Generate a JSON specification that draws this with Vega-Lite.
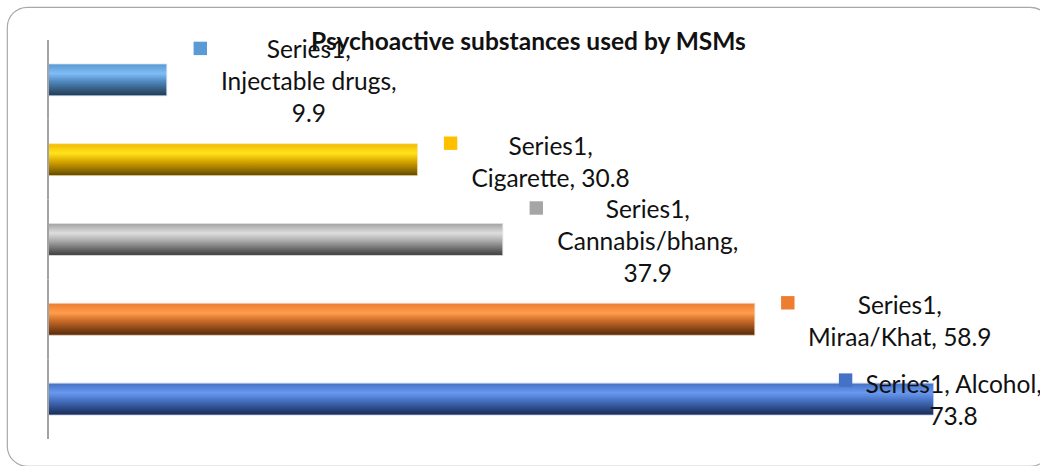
{
  "$schema": "https://vega.github.io/schema/vega-lite/v6.json",
  "width": 1043,
  "height": 459,
  "autosize": {"type": "none"},
  "padding": {"left": 7, "top": 7, "right": 0, "bottom": 0},
  "background": "white",
  "config": {
    "view": {"stroke": "#a8a8a8", "strokeWidth": 1.2, "cornerRadius": 20, "fill": "white"},
    "text": {"font": "Lato", "fontSize": 24.5, "color": "#111111", "align": "center", "baseline": "alphabetic", "lineBreak": "\n", "lineHeight": 32}
  },
  "title": {
    "text": "Psychoactive substances used by MSMs",
    "font": "Lato",
    "fontSize": 24.5,
    "fontWeight": "bold",
    "color": "#111111",
    "anchor": "middle",
    "baseline": "alphabetic",
    "offset": -67
  },
  "data": {
    "values": [
      {"item": "Injectable drugs", "value": 9.9},
      {"item": "Cigarette", "value": 30.8},
      {"item": "Cannabis/bhang", "value": 37.9},
      {"item": "Miraa/Khat", "value": 58.9},
      {"item": "Alcohol", "value": 73.8}
    ]
  },
  "encoding": {
    "y": {
      "field": "item",
      "type": "nominal",
      "sort": null,
      "axis": null,
      "scale": {
        "domain": ["Injectable drugs", "Cigarette", "Cannabis/bhang", "Miraa/Khat", "Alcohol"],
        "paddingInner": 0,
        "paddingOuter": 0.376,
        "align": 0.55
      }
    }
  },
  "layer": [
    {
      "transform": [{"filter": "datum.item === 'Injectable drugs'"}],
      "mark": {"type": "bar", "height": {"band": 0.4}, "stroke": "#d6e4f2", "strokeWidth": 0.8,
        "fill": {"gradient": "linear", "x1": 0, "y1": 0, "x2": 0, "y2": 1, "stops": [
          {"offset": 0, "color": "#5b98d2"}, {"offset": 0.3, "color": "#7fbdf7"}, {"offset": 0.55, "color": "#5089bf"}, {"offset": 0.85, "color": "#2f5373"}, {"offset": 1, "color": "#1f3a55"}]}},
      "encoding": {
        "x": {"field": "value", "type": "quantitative", "axis": null, "scale": {"domain": [-3.417, 83.5], "zero": false, "nice": false}},
        "x2": {"datum": 0}
      }
    },
    {
      "transform": [{"filter": "datum.item === 'Cigarette'"}],
      "mark": {"type": "bar", "height": {"band": 0.4}, "stroke": "#f6e6b0", "strokeWidth": 0.8,
        "fill": {"gradient": "linear", "x1": 0, "y1": 0, "x2": 0, "y2": 1, "stops": [
          {"offset": 0, "color": "#f2b900"}, {"offset": 0.3, "color": "#ffe41c"}, {"offset": 0.55, "color": "#d9a600"}, {"offset": 0.85, "color": "#8a6800"}, {"offset": 1, "color": "#5e4600"}]}},
      "encoding": {
        "x": {"field": "value", "type": "quantitative"},
        "x2": {"datum": 0}
      }
    },
    {
      "transform": [{"filter": "datum.item === 'Cannabis/bhang'"}],
      "mark": {"type": "bar", "height": {"band": 0.4}, "stroke": "#e2e2e2", "strokeWidth": 0.8,
        "fill": {"gradient": "linear", "x1": 0, "y1": 0, "x2": 0, "y2": 1, "stops": [
          {"offset": 0, "color": "#a2a2a2"}, {"offset": 0.3, "color": "#dedede"}, {"offset": 0.55, "color": "#a9a9a9"}, {"offset": 0.85, "color": "#5e5e5e"}, {"offset": 1, "color": "#3c3c3c"}]}},
      "encoding": {
        "x": {"field": "value", "type": "quantitative"},
        "x2": {"datum": 0}
      }
    },
    {
      "transform": [{"filter": "datum.item === 'Miraa/Khat'"}],
      "mark": {"type": "bar", "height": {"band": 0.4}, "stroke": "#f3d3bc", "strokeWidth": 0.8,
        "fill": {"gradient": "linear", "x1": 0, "y1": 0, "x2": 0, "y2": 1, "stops": [
          {"offset": 0, "color": "#ec7b30"}, {"offset": 0.3, "color": "#ff9e4c"}, {"offset": 0.55, "color": "#c96a28"}, {"offset": 0.85, "color": "#7a3e14"}, {"offset": 1, "color": "#55290a"}]}},
      "encoding": {
        "x": {"field": "value", "type": "quantitative"},
        "x2": {"datum": 0}
      }
    },
    {
      "transform": [{"filter": "datum.item === 'Alcohol'"}],
      "mark": {"type": "bar", "height": {"band": 0.4}, "stroke": "#c4d2ee", "strokeWidth": 0.8,
        "fill": {"gradient": "linear", "x1": 0, "y1": 0, "x2": 0, "y2": 1, "stops": [
          {"offset": 0, "color": "#4470c2"}, {"offset": 0.3, "color": "#6899f0"}, {"offset": 0.55, "color": "#4670c0"}, {"offset": 0.85, "color": "#26407a"}, {"offset": 1, "color": "#1a2a50"}]}},
      "encoding": {
        "x": {"field": "value", "type": "quantitative"},
        "x2": {"datum": 0}
      }
    },
    {
      "mark": {"type": "bar", "color": "#a3a3a3"},
      "encoding": {
        "x": {"datum": -0.085, "type": "quantitative"},
        "x2": {"datum": 0.085}
      }
    },
    {
      "transform": [{"filter": "datum.item === 'Injectable drugs' || datum.item === 'Cannabis/bhang'"}],
      "mark": {"type": "square", "size": 180, "opacity": 1, "xOffset": 33.5, "yOffset": -31.5},
      "encoding": {
        "x": {"field": "value", "type": "quantitative"},
        "color": {"field": "item", "type": "nominal", "legend": null,
          "scale": {"domain": ["Injectable drugs", "Cigarette", "Cannabis/bhang", "Miraa/Khat", "Alcohol"],
                    "range": ["#5b9bd5", "#ffc000", "#a5a5a5", "#ed7d31", "#4472c4"]}}
      }
    },
    {
      "transform": [{"filter": "datum.item === 'Cigarette' || datum.item === 'Miraa/Khat'"}],
      "mark": {"type": "square", "size": 180, "opacity": 1, "xOffset": 33, "yOffset": -16.5},
      "encoding": {
        "x": {"field": "value", "type": "quantitative"},
        "color": {"field": "item", "type": "nominal", "legend": null}
      }
    },
    {
      "transform": [{"filter": "datum.item === 'Alcohol'"}],
      "mark": {"type": "square", "size": 180, "opacity": 1, "xOffset": -88, "yOffset": -19},
      "encoding": {
        "x": {"field": "value", "type": "quantitative"},
        "color": {"field": "item", "type": "nominal", "legend": null}
      }
    },
    {
      "transform": [
        {"filter": "datum.item === 'Injectable drugs'"},
        {"calculate": "'Series1,\\n' + datum.item + ',\\n' + format(datum.value, '.1f')", "as": "label"}
      ],
      "mark": {"type": "text", "dx": 142, "dy": -21.5},
      "encoding": {"x": {"field": "value", "type": "quantitative"}, "text": {"field": "label"}}
    },
    {
      "transform": [
        {"filter": "datum.item === 'Cigarette'"},
        {"calculate": "'Series1,\\n' + datum.item + ', ' + format(datum.value, '.1f')", "as": "label"}
      ],
      "mark": {"type": "text", "dx": 133, "dy": -5},
      "encoding": {"x": {"field": "value", "type": "quantitative"}, "text": {"field": "label"}}
    },
    {
      "transform": [
        {"filter": "datum.item === 'Cannabis/bhang'"},
        {"calculate": "'Series1,\\n' + datum.item + ',\\n' + format(datum.value, '.1f')", "as": "label"}
      ],
      "mark": {"type": "text", "dx": 145, "dy": -21.5},
      "encoding": {"x": {"field": "value", "type": "quantitative"}, "text": {"field": "label"}}
    },
    {
      "transform": [
        {"filter": "datum.item === 'Miraa/Khat'"},
        {"calculate": "'Series1,\\n' + datum.item + ', ' + format(datum.value, '.1f')", "as": "label"}
      ],
      "mark": {"type": "text", "dx": 145, "dy": -5.5},
      "encoding": {"x": {"field": "value", "type": "quantitative"}, "text": {"field": "label"}}
    },
    {
      "transform": [
        {"filter": "datum.item === 'Alcohol'"},
        {"calculate": "'Series1, ' + datum.item + ',\\n' + format(datum.value, '.1f')", "as": "label"}
      ],
      "mark": {"type": "text", "dx": 20, "dy": -6},
      "encoding": {"x": {"field": "value", "type": "quantitative"}, "text": {"field": "label"}}
    }
  ]
}
